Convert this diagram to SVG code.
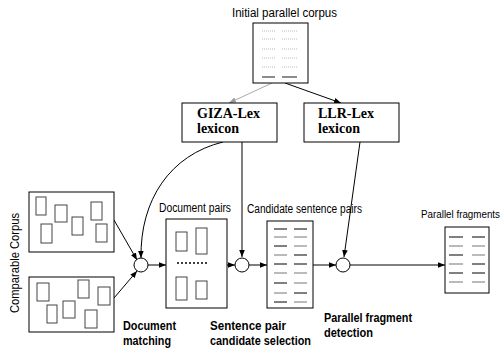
<svg xmlns="http://www.w3.org/2000/svg" width="504" height="353" viewBox="0 0 504 353">
<defs>
<marker id="ah" viewBox="0 0 10 10" refX="10" refY="5" markerWidth="7" markerHeight="7" markerUnits="userSpaceOnUse" orient="auto">
<path d="M0,1 L10,5 L0,9 Z" fill="#000"/>
</marker>
<marker id="ahg" viewBox="0 0 10 10" refX="10" refY="5" markerWidth="7" markerHeight="7" markerUnits="userSpaceOnUse" orient="auto">
<path d="M0,1 L10,5 L0,9 Z" fill="#999"/>
</marker>
</defs>
<style>
.box{fill:#fff;stroke:#000;stroke-width:1}
.doc{fill:#fff;stroke:#444;stroke-width:1}
.lbl{font-family:"Liberation Sans",Arial,sans-serif;font-size:12px;fill:#000}
.blbl{font-family:"Liberation Sans",Arial,sans-serif;font-size:13px;font-weight:bold;fill:#000}
.lex{font-family:"Liberation Serif","Times New Roman",serif;font-size:14px;font-weight:bold;fill:#000}
.ln{stroke:#000;stroke-width:1}
.lg{stroke:#777;stroke-width:1}
.dl{stroke:#bbb;stroke-width:1;stroke-dasharray:1,1}
.conn{fill:none;stroke:#000;stroke-width:1}
.circ{fill:#fff;stroke:#000;stroke-width:1}
</style>
<rect width="504" height="353" fill="#fff"/>

<g id="connectors">
<line x1="272" y1="83" x2="229" y2="103" stroke="#aaa" stroke-width="1" marker-end="url(#ahg)"/>
<line x1="285" y1="83" x2="341" y2="103" class="conn" marker-end="url(#ah)"/>
<path d="M223,142 C170,155 140,200 141,258" class="conn" marker-end="url(#ah)"/>
<line x1="242" y1="142" x2="242" y2="257" class="conn" marker-end="url(#ah)"/>
<line x1="360" y1="142" x2="344" y2="257" class="conn" marker-end="url(#ah)"/>
<line x1="114" y1="220" x2="137" y2="260" class="conn" marker-end="url(#ah)"/>
<line x1="114" y1="298" x2="137" y2="271" class="conn" marker-end="url(#ah)"/>
<line x1="148" y1="265" x2="166" y2="265" class="conn" marker-end="url(#ah)"/>
<line x1="227" y1="265" x2="235" y2="265" class="conn" marker-end="url(#ah)"/>
<line x1="249" y1="265" x2="267" y2="265" class="conn" marker-end="url(#ah)"/>
<line x1="313" y1="265" x2="336" y2="265" class="conn" marker-end="url(#ah)"/>
<line x1="350" y1="265" x2="445" y2="265" class="conn" marker-end="url(#ah)"/>
</g>

<g id="initial-corpus">
<text x="284.5" y="17" class="lbl" text-anchor="middle" textLength="105" lengthAdjust="spacingAndGlyphs">Initial parallel corpus</text>
<rect x="253" y="23" width="55" height="60" class="box"/>
<line x1="262" y1="31" x2="275" y2="31" class="dl"/><line x1="282" y1="31" x2="297" y2="31" class="dl"/>
<line x1="262" y1="39" x2="275" y2="39" class="dl"/><line x1="282" y1="39" x2="297" y2="39" class="dl"/>
<line x1="262" y1="49" x2="275" y2="49" class="dl"/><line x1="282" y1="49" x2="297" y2="49" class="dl"/>
<line x1="262" y1="58" x2="275" y2="58" class="dl"/><line x1="282" y1="58" x2="297" y2="58" class="dl"/>
<line x1="262" y1="67" x2="275" y2="67" class="dl"/><line x1="282" y1="67" x2="297" y2="67" class="dl"/>
<line x1="262" y1="77" x2="275" y2="77" stroke="#666" stroke-width="1.5"/><line x1="282" y1="77" x2="297" y2="77" stroke="#666" stroke-width="1.5"/>
</g>

<g id="giza-lex">
<rect x="182" y="103" width="95" height="39" class="box"/>
<text x="197" y="118" class="lex">GIZA-Lex</text>
<text x="197" y="133" class="lex">lexicon</text>
</g>

<g id="llr-lex">
<rect x="304" y="103" width="95" height="39" class="box"/>
<text x="318" y="118" class="lex">LLR-Lex</text>
<text x="318" y="133" class="lex">lexicon</text>
</g>

<g id="comparable-corpus">
<text transform="translate(19,263) rotate(-90)" class="lbl" text-anchor="middle" textLength="100" lengthAdjust="spacingAndGlyphs">Comparable Corpus</text>
<rect x="29" y="192" width="85" height="60" class="box"/>
<rect x="36" y="197" width="10" height="18" class="doc"/>
<rect x="55" y="205" width="12" height="17" class="doc"/>
<rect x="72" y="217" width="11" height="18" class="doc"/>
<rect x="91" y="202" width="11" height="18" class="doc"/>
<rect x="41" y="224" width="11" height="19" class="doc"/>
<rect x="96" y="224" width="11" height="18" class="doc"/>
<rect x="29" y="277" width="85" height="55" class="box"/>
<rect x="37" y="283" width="12" height="18" class="doc"/>
<rect x="47" y="305" width="10" height="18" class="doc"/>
<rect x="63" y="301" width="12" height="17" class="doc"/>
<rect x="78" y="280" width="11" height="18" class="doc"/>
<rect x="85" y="310" width="12" height="18" class="doc"/>
<rect x="98" y="287" width="12" height="18" class="doc"/>
</g>

<g id="doc-matching">
<circle cx="141" cy="265" r="7" class="circ"/>
<text x="123" y="330" class="blbl" textLength="53" lengthAdjust="spacingAndGlyphs">Document</text>
<text x="123" y="345" class="blbl" textLength="48" lengthAdjust="spacingAndGlyphs">matching</text>
</g>

<g id="document-pairs">
<text x="195" y="212" class="lbl" text-anchor="middle" textLength="72" lengthAdjust="spacingAndGlyphs">Document pairs</text>
<rect x="166" y="219" width="61" height="89" class="box"/>
<rect x="176" y="232" width="11" height="19" class="doc"/>
<rect x="196" y="228" width="11" height="26" class="doc"/>
<line x1="177" y1="263" x2="207" y2="263" stroke="#000" stroke-width="1.5" stroke-dasharray="2,2"/>
<rect x="176" y="277" width="11" height="23" class="doc"/>
<rect x="196" y="281" width="11" height="18" class="doc"/>
</g>

<g id="sent-selection">
<circle cx="242" cy="265" r="7" class="circ"/>
<text x="210" y="330" class="blbl" textLength="76" lengthAdjust="spacingAndGlyphs">Sentence pair</text>
<text x="210" y="345" class="blbl" textLength="101" lengthAdjust="spacingAndGlyphs">candidate selection</text>
</g>

<g id="candidate-pairs">
<text x="247" y="213" class="lbl" textLength="115" lengthAdjust="spacingAndGlyphs">Candidate sentence pairs</text>
<rect x="267" y="221" width="46" height="87" class="box"/>
<g>
<line x1="274" y1="229" x2="287" y2="229" class="ln"/><line x1="294" y1="229" x2="307" y2="229" class="ln"/>
<line x1="274" y1="237" x2="287" y2="237" class="lg"/><line x1="294" y1="237" x2="307" y2="237" class="lg"/>
<line x1="274" y1="246" x2="287" y2="246" class="ln"/><line x1="294" y1="246" x2="307" y2="246" class="lg"/>
<line x1="274" y1="255" x2="287" y2="255" class="lg"/><line x1="294" y1="255" x2="307" y2="255" class="ln"/>
<line x1="274" y1="264" x2="287" y2="264" class="ln"/><line x1="294" y1="264" x2="307" y2="264" class="ln"/>
<line x1="274" y1="273" x2="287" y2="273" class="lg"/><line x1="294" y1="273" x2="307" y2="273" class="lg"/>
<line x1="274" y1="283" x2="287" y2="283" class="ln"/><line x1="294" y1="283" x2="307" y2="283" class="lg"/>
<line x1="274" y1="293" x2="287" y2="293" class="lg"/><line x1="294" y1="293" x2="307" y2="293" class="ln"/>
<line x1="274" y1="302" x2="287" y2="302" class="ln"/><line x1="294" y1="302" x2="307" y2="302" class="lg"/>
</g>
</g>

<g id="fragment-detection">
<circle cx="343" cy="265" r="7" class="circ"/>
<text x="324" y="322" class="blbl" textLength="88" lengthAdjust="spacingAndGlyphs">Parallel fragment</text>
<text x="324" y="337" class="blbl" textLength="49" lengthAdjust="spacingAndGlyphs">detection</text>
</g>

<g id="parallel-fragments">
<text x="421" y="218" class="lbl" style="font-size:10px" textLength="79" lengthAdjust="spacingAndGlyphs">Parallel fragments</text>
<rect x="445" y="227" width="44" height="66" class="box"/>
<line x1="449" y1="237" x2="463" y2="237" class="ln"/><line x1="472" y1="237" x2="485" y2="237" class="ln"/>
<line x1="449" y1="246" x2="463" y2="246" class="lg"/><line x1="472" y1="246" x2="485" y2="246" class="lg"/>
<line x1="449" y1="255" x2="463" y2="255" class="ln"/><line x1="472" y1="255" x2="485" y2="255" class="lg"/>
<line x1="449" y1="264" x2="463" y2="264" class="lg"/><line x1="472" y1="264" x2="485" y2="264" class="ln"/>
<line x1="449" y1="273" x2="463" y2="273" class="ln"/><line x1="472" y1="273" x2="485" y2="273" class="ln"/>
<line x1="449" y1="282" x2="463" y2="282" class="lg"/><line x1="472" y1="282" x2="485" y2="282" class="lg"/>
</g>
</svg>
